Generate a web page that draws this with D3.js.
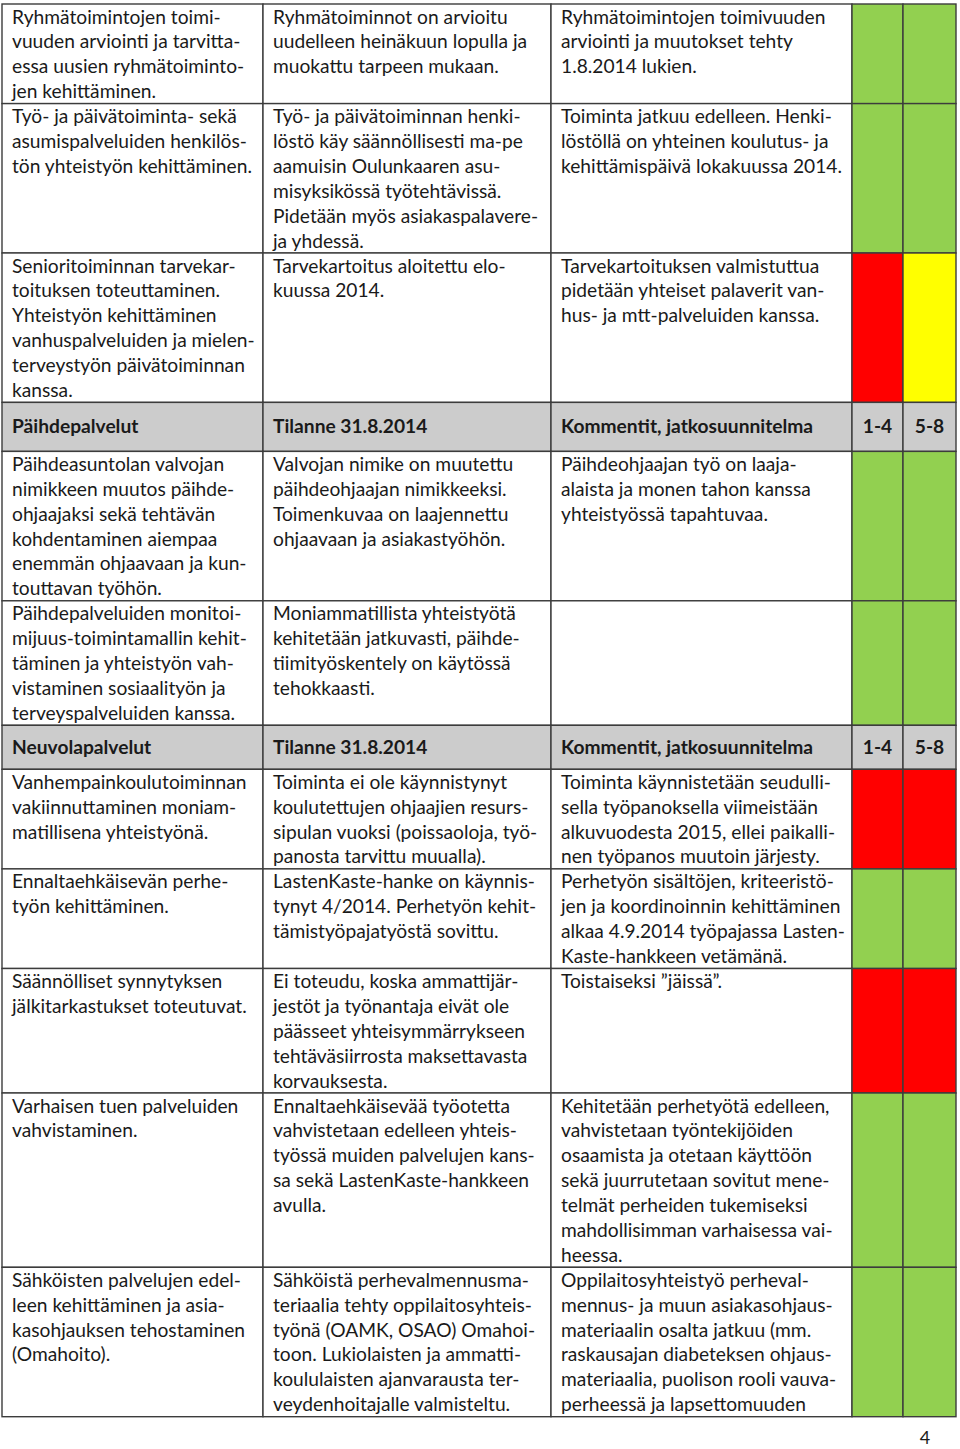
<!DOCTYPE html>
<html>
<head>
<meta charset="utf-8">
<script src="https://cdn.jsdelivr.net/npm/d3@7"></script>
<style>
  body { margin: 0; background: #fff; }
  svg text { font-family: Lato, "Noto Sans", sans-serif; fill: #1a1a1a; }
</style>
</head>
<body>
<div id="table"></div>
<script>
// Section titles and header labels
const sectionNames = ["Päihdepalvelut", "Neuvolapalvelut"];
const headerLabels = ["Tilanne 31.8.2014", "Kommentit, jatkosuunnitelma", "1-4", "5-8"];

// Which section each row belongs to (-1 = continued from previous page)
const rowSection = [-1, -1, -1, 0, 0, 1, 1, 1, 1, 1];

// Column 1: goals
const goals = [
  ["Ryhmätoimintojen toimi-", "vuuden arviointi ja tarvitta-", "essa uusien ryhmätoiminto-", "jen kehittäminen."],
  ["Työ- ja päivätoiminta- sekä", "asumispalveluiden henkilös-", "tön yhteistyön kehittäminen."],
  ["Senioritoiminnan tarvekar-", "toituksen toteuttaminen.", "Yhteistyön kehittäminen", "vanhuspalveluiden ja mielen-", "terveystyön päivätoiminnan", "kanssa."],
  ["Päihdeasuntolan valvojan", "nimikkeen muutos päihde-", "ohjaajaksi sekä tehtävän", "kohdentaminen aiempaa", "enemmän ohjaavaan ja kun-", "touttavan työhön."],
  ["Päihdepalveluiden monitoi-", "mijuus-toimintamallin kehit-", "täminen ja yhteistyön vah-", "vistaminen sosiaalityön ja", "terveyspalveluiden kanssa."],
  ["Vanhempainkoulutoiminnan", "vakiinnuttaminen moniam-", "matillisena yhteistyönä."],
  ["Ennaltaehkäisevän perhe-", "työn kehittäminen."],
  ["Säännölliset synnytyksen", "jälkitarkastukset toteutuvat."],
  ["Varhaisen tuen palveluiden", "vahvistaminen."],
  ["Sähköisten palvelujen edel-", "leen kehittäminen ja asia-", "kasohjauksen tehostaminen", "(Omahoito)."]
];

// Column 2: situation 31.8.2014
const situations = [
  ["Ryhmätoiminnot on arvioitu", "uudelleen heinäkuun lopulla ja", "muokattu tarpeen mukaan."],
  ["Työ- ja päivätoiminnan henki-", "löstö käy säännöllisesti ma-pe", "aamuisin Oulunkaaren asu-", "misyksikössä työtehtävissä.", "Pidetään myös asiakaspalavere-", "ja yhdessä."],
  ["Tarvekartoitus aloitettu elo-", "kuussa 2014."],
  ["Valvojan nimike on muutettu", "päihdeohjaajan nimikkeeksi.", "Toimenkuvaa on laajennettu", "ohjaavaan ja asiakastyöhön."],
  ["Moniammatillista yhteistyötä", "kehitetään jatkuvasti, päihde-", "tiimityöskentely on käytössä", "tehokkaasti."],
  ["Toiminta ei ole käynnistynyt", "koulutettujen ohjaajien resurs-", "sipulan vuoksi (poissaoloja, työ-", "panosta tarvittu muualla)."],
  ["LastenKaste-hanke on käynnis-", "tynyt 4/2014. Perhetyön kehit-", "tämistyöpajatyöstä sovittu."],
  ["Ei toteudu, koska ammattijär-", "jestöt ja työnantaja eivät ole", "päässeet yhteisymmärrykseen", "tehtäväsiirrosta maksettavasta", "korvauksesta."],
  ["Ennaltaehkäisevää työotetta", "vahvistetaan edelleen yhteis-", "työssä muiden palvelujen kans-", "sa sekä LastenKaste-hankkeen", "avulla."],
  ["Sähköistä perhevalmennusma-", "teriaalia tehty oppilaitosyhteis-", "työnä (OAMK, OSAO) Omahoi-", "toon. Lukiolaisten ja ammatti-", "koululaisten ajanvarausta ter-", "veydenhoitajalle valmisteltu."]
];

// Column 3: comments, follow-up plan
const comments = [
  ["Ryhmätoimintojen toimivuuden", "arviointi ja muutokset tehty", "1.8.2014 lukien."],
  ["Toiminta jatkuu edelleen. Henki-", "löstöllä on yhteinen koulutus- ja", "kehittämispäivä lokakuussa 2014."],
  ["Tarvekartoituksen valmistuttua", "pidetään yhteiset palaverit van-", "hus- ja mtt-palveluiden kanssa."],
  ["Päihdeohjaajan työ on laaja-", "alaista ja monen tahon kanssa", "yhteistyössä tapahtuvaa."],
  [],
  ["Toiminta käynnistetään seudulli-", "sella työpanoksella viimeistään", "alkuvuodesta 2015, ellei paikalli-", "nen työpanos muutoin järjesty."],
  ["Perhetyön sisältöjen, kriteeristö-", "jen ja koordinoinnin kehittäminen", "alkaa 4.9.2014 työpajassa Lasten-", "Kaste-hankkeen vetämänä."],
  ["Toistaiseksi ”jäissä”."],
  ["Kehitetään perhetyötä edelleen,", "vahvistetaan työntekijöiden", "osaamista ja otetaan käyttöön", "sekä juurrutetaan sovitut mene-", "telmät perheiden tukemiseksi", "mahdollisimman varhaisessa vai-", "heessa."],
  ["Oppilaitosyhteistyö perheval-", "mennus- ja muun asiakasohjaus-", "materiaalin osalta jatkuu (mm.", "raskausajan diabeteksen ohjaus-", "materiaalia, puolison rooli vauva-", "perheessä ja lapsettomuuden"]
];

// Traffic-light status for periods 1-4 and 5-8
const status14 = ["green", "green", "red", "green", "green", "red", "green", "red", "green", "green"];
const status58 = ["green", "green", "yellow", "green", "green", "red", "green", "red", "green", "green"];

const pageNumber = "4";

// ---- layout ----
const W = 960, H = 1449;
const colX = [2, 263, 551, 852, 903, 956];
const top0 = 4;
const lineH = 24.9;
const headerH = [49, 44];
const pad = 10;
const fs = 19.2;

const color = d3.scaleOrdinal()
  .domain(["green", "red", "yellow", "header"])
  .range(["#92d050", "#ff0000", "#ffff00", "#cccccc"]);

// Build a flat list of table rows (headers + content rows) with y positions
const rows = [];
let y = top0;
rowSection.forEach((s, i) => {
  if (s >= 0 && (i === 0 || rowSection[i - 1] !== s)) {
    const h = headerH[s];
    rows.push({ type: "header", y, h, cells: [sectionNames[s], ...headerLabels] });
    y += h;
  }
  const n = Math.max(goals[i].length, situations[i].length, comments[i].length);
  const h = n * lineH;
  rows.push({ type: "row", y, h, cells: [goals[i], situations[i], comments[i]], s14: status14[i], s58: status58[i] });
  y += h;
});

const svg = d3.select("#table")
  .append("svg")
  .attr("width", W)
  .attr("height", H);

const g = svg.selectAll("g.tr")
  .data(rows)
  .enter()
  .append("g")
  .attr("class", "tr")
  .attr("transform", d => `translate(0,${d.y})`);

// Cell backgrounds
g.each(function (d) {
  const row = d3.select(this);
  const fills = d.type === "header"
    ? ["header", "header", "header", "header", "header"]
    : [null, null, null, d.s14, d.s58];
  fills.forEach((f, c) => {
    row.append("rect")
      .attr("x", colX[c])
      .attr("y", 0)
      .attr("width", colX[c + 1] - colX[c])
      .attr("height", d.h)
      .attr("fill", f ? color(f) : "#ffffff")
      .attr("stroke", "#3c3c3c")
      .attr("stroke-width", 1.4);
  });
});

// Header texts
g.filter(d => d.type === "header").each(function (d) {
  const row = d3.select(this);
  d.cells.forEach((t, c) => {
    const centered = c >= 3;
    row.append("text")
      .attr("x", centered ? (colX[c] + colX[c + 1]) / 2 : colX[c] + pad)
      .attr("y", d.h / 2 + 6.5)
      .attr("text-anchor", centered ? "middle" : "start")
      .attr("font-size", fs)
      .attr("font-weight", "bold")
      .text(t);
  });
});

// Body texts
g.filter(d => d.type === "row").each(function (d) {
  const row = d3.select(this);
  d.cells.forEach((lines, c) => {
    row.selectAll(null)
      .data(lines)
      .enter()
      .append("text")
      .attr("x", colX[c] + pad)
      .attr("y", (t, i) => 19.5 + i * lineH)
      .attr("font-size", fs)
      .text(t => t);
  });
});

// Page number
svg.append("text")
  .attr("x", 925)
  .attr("y", 1444)
  .attr("text-anchor", "middle")
  .attr("font-size", 18)
  .text(pageNumber);
</script>
</body>
</html>
